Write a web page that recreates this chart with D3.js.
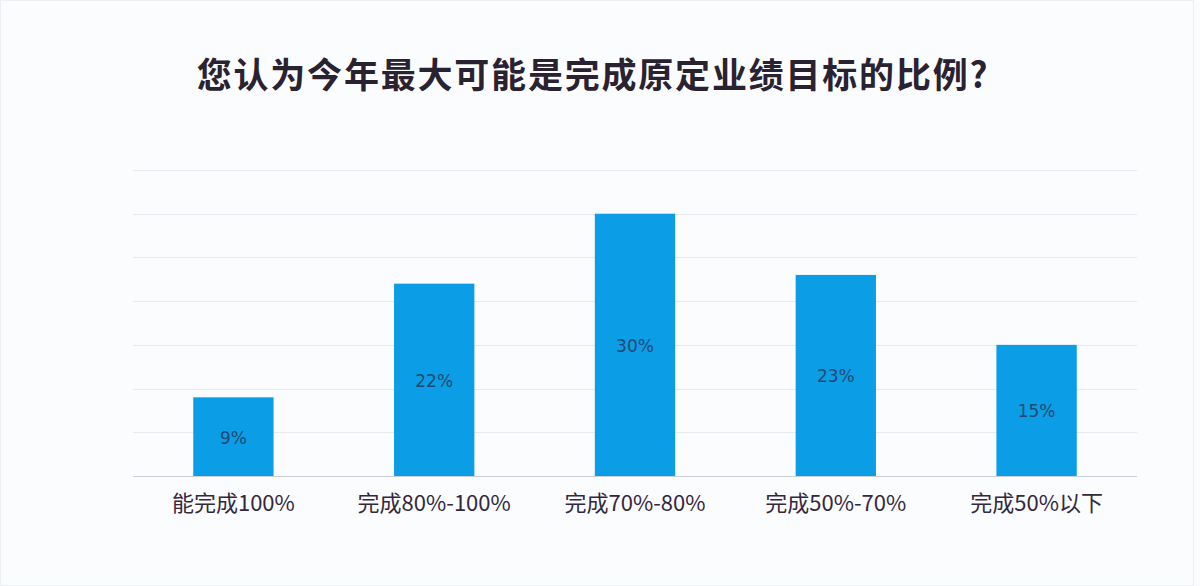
<!DOCTYPE html>
<html>
<head>
<meta charset="utf-8">
<script src="https://cdn.jsdelivr.net/npm/d3@7/dist/d3.min.js"></script>
<style>
  html, body { margin: 0; padding: 0; background: #fbfcfe; }
  svg { display: block; }
</style>
</head>
<body>
<div id="chart"></div>
<script>
// Survey chart data
const title = '您认为今年最大可能是完成原定业绩目标的比例?';
const categories = ['能完成100%', '完成80%-100%', '完成70%-80%', '完成50%-70%', '完成50%以下'];
const values = [9, 22, 30, 23, 15];
const yTicks = [0, 5, 10, 15, 20, 25, 30, 35];

const width = 1200;
const height = 586;
const margin = { top: 170, right: 63, bottom: 110, left: 133 };

const svg = d3.select('#chart')
  .append('svg')
  .attr('width', width)
  .attr('height', height);

// Card outline
svg.append('rect')
  .attr('x', 0.5)
  .attr('y', 0.5)
  .attr('width', 1193)
  .attr('height', height - 1)
  .attr('fill', '#fbfcfe')
  .attr('stroke', '#eceff4');

const x = d3.scaleBand()
  .domain(categories)
  .range([margin.left, width - margin.right])
  .paddingInner(0.6)
  .paddingOuter(0.3);

const y = d3.scaleLinear()
  .domain([0, 35])
  .range([height - margin.bottom, margin.top]);

// Title
svg.append('text')
  .attr('x', 593)
  .attr('y', 78)
  .attr('text-anchor', 'middle')
  .attr('dominant-baseline', 'middle')
  .attr('font-family', '"Noto Sans CJK SC", sans-serif')
  .attr('font-weight', 700)
  .attr('font-size', 35)
  .attr('letter-spacing', 1.8)
  .attr('fill', '#2a2230')
  .text(title);

// Gridlines
svg.append('g')
  .selectAll('line')
  .data(yTicks.filter(t => t > 0))
  .enter()
  .append('line')
  .attr('x1', margin.left)
  .attr('x2', width - margin.right)
  .attr('y1', d => Math.round(y(d)) + 0.5)
  .attr('y2', d => Math.round(y(d)) + 0.5)
  .attr('stroke', '#e6e9ef')
  .attr('stroke-width', 1);

// Bars
svg.append('g')
  .selectAll('rect')
  .data(values)
  .enter()
  .append('rect')
  .attr('x', (d, i) => x(categories[i]))
  .attr('y', d => y(d))
  .attr('width', x.bandwidth())
  .attr('height', d => y(0) - y(d))
  .attr('fill', '#0c9de7');

// Value labels
svg.append('g')
  .selectAll('text')
  .data(values)
  .enter()
  .append('text')
  .attr('x', (d, i) => x(categories[i]) + x.bandwidth() / 2)
  .attr('y', d => (y(d) + y(0)) / 2 + 2)
  .attr('text-anchor', 'middle')
  .attr('dominant-baseline', 'middle')
  .attr('font-family', '"DejaVu Sans", sans-serif')
  .attr('font-size', 17)
  .attr('fill', '#1d4a72')
  .text(d => d + '%');

// Baseline
svg.append('line')
  .attr('x1', margin.left)
  .attr('x2', width - margin.right)
  .attr('y1', Math.round(y(0)) + 0.5)
  .attr('y2', Math.round(y(0)) + 0.5)
  .attr('stroke', '#c9ced8')
  .attr('stroke-width', 1);

// X axis labels
const xAxis = d3.axisBottom(x).tickSize(0).tickPadding(19);
const gx = svg.append('g')
  .attr('transform', `translate(0,${y(0)})`)
  .call(xAxis);
gx.select('.domain').remove();
gx.selectAll('text')
  .attr('font-family', '"Noto Sans CJK SC", sans-serif')
  .attr('font-size', 22)
  .attr('fill', '#34283f');
</script>
</body>
</html>
